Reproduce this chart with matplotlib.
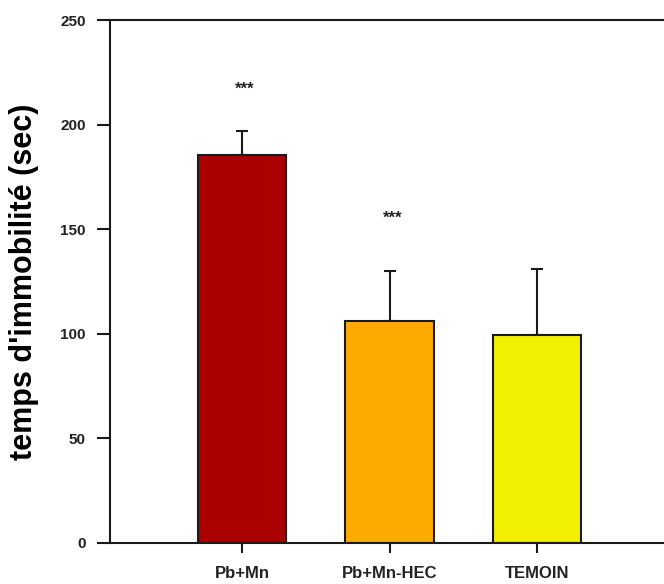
import matplotlib
matplotlib.use("Agg")
import matplotlib.pyplot as plt

groups = ["Pb+Mn", "Pb+Mn-HEC", "TEMOIN"]
means = [185.5, 106.0, 99.5]
sem = [11.5, 24.0, 31.3]
signif = ["***", "***", ""]
star_y = [217, 155, None]
colors = ["#AA0000", "#FFAA00", "#F0F000"]
yticks = [0, 50, 100, 150, 200, 250]

plt.rcParams["font.family"] = ["Liberation Sans", "DejaVu Sans"]

fig = plt.figure(figsize=(6.64, 5.84), dpi=100)
ax = fig.add_axes([110 / 664, 41 / 584, (684.5 - 110) / 664, 523 / 584])

x = [1, 2, 3]
ax.bar(x, means, width=0.6, color=colors, edgecolor="#1a1a1a", linewidth=1.5, zorder=2)
ax.errorbar(x, means, yerr=[[0] * 3, sem], fmt="none", ecolor="#1a1a1a",
            elinewidth=1.5, capsize=4.5, capthick=1.5, zorder=1)

for xi, s, sy in zip(x, signif, star_y):
    if s:
        ax.text(xi + 0.02, sy, s, ha="center", va="center", fontsize=12,
                fontweight="bold", color="#222222")

ax.set_xlim(0.105, 4.0)
ax.set_ylim(0, 250)
ax.set_yticks(yticks)
ax.set_xticks(x)
ax.set_xticklabels(groups)

for side in ["left", "bottom", "top"]:
    ax.spines[side].set_linewidth(1.5)
    ax.spines[side].set_color("#1a1a1a")
ax.spines["right"].set_visible(False)

ax.tick_params(axis="y", direction="out", length=9.5, width=1.5, color="#1a1a1a",
               labelsize=11, pad=8)
ax.tick_params(axis="x", direction="out", length=7.5, width=1.5, color="#1a1a1a",
               labelsize=12, pad=9)
for lab in ax.get_yticklabels() + ax.get_xticklabels():
    lab.set_fontweight("bold")
    lab.set_color("#222222")

ax.set_ylabel("temps d'immobilité (sec)", fontsize=22, fontweight="bold", labelpad=15)

fig.savefig("out.png", dpi=100)
